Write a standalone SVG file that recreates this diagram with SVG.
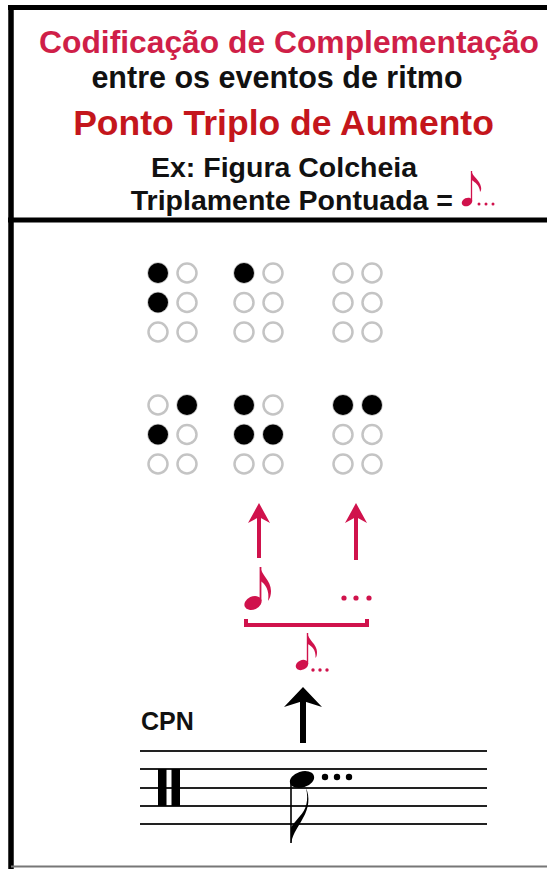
<svg xmlns="http://www.w3.org/2000/svg" width="547" height="869" viewBox="0 0 547 869">
<defs>
<style>
.t{font-family:"Liberation Sans",Arial,sans-serif;font-weight:bold;text-anchor:middle}
.red1{fill:#cf1f48}
.red2{fill:#c4161c}
.blk{fill:#111}
.on{fill:#000}
.off{fill:none;stroke:#c4c4c4;stroke-width:2.5}
.staff{stroke:#222;stroke-width:2}
.rd{fill:#d0124c}
.rs{stroke:#d0124c;fill:none}
</style>
<g id="dotcell">
<circle cx="0" cy="0" r="9.5" class="off"/>
<circle cx="29" cy="0" r="9.5" class="off"/>
<circle cx="0" cy="29.5" r="9.5" class="off"/>
<circle cx="29" cy="29.5" r="9.5" class="off"/>
<circle cx="0" cy="59" r="9.5" class="off"/>
<circle cx="29" cy="59" r="9.5" class="off"/>
</g>
</defs>
<rect width="547" height="869" fill="#fff"/>
<g id="frame">
<line x1="11" y1="5" x2="11" y2="869" stroke="#000" stroke-width="5.5"/>
<line x1="8" y1="7.5" x2="547" y2="7.5" stroke="#000" stroke-width="5"/>
<line x1="8" y1="220" x2="547" y2="220" stroke="#000" stroke-width="5"/>
<line x1="11" y1="866.5" x2="547" y2="866.5" stroke="#777" stroke-width="2"/>
</g>
<g id="header">
<text class="t red1" x="289" y="53" font-size="32" textLength="500" lengthAdjust="spacingAndGlyphs">Codificação de Complementação</text>
<text class="t blk" x="277" y="88" font-size="30.5">entre os eventos de ritmo</text>
<text class="t red2" x="283.5" y="135" font-size="35.5">Ponto Triplo de Aumento</text>
<text class="t blk" x="284" y="177" font-size="28.5">Ex: Figura Colcheia</text>
<text class="t blk" x="453" y="210" font-size="28.5" style="text-anchor:end">Triplamente Pontuada =</text>
<g id="small-note-header">
<ellipse cx="467" cy="202" rx="5.5" ry="4" transform="rotate(-25 467 202)" class="rd"/>
<line x1="471.5" y1="201" x2="471.5" y2="171" class="rs" stroke-width="1.3"/>
<path d="M471.5,171 C472,176 480,180 481,187 C481.5,189 481,191 480,192 C480,186 475,182 471.5,180 Z" class="rd"/>
<circle cx="479" cy="204" r="1.5" class="rd"/>
<circle cx="486" cy="204" r="1.5" class="rd"/>
<circle cx="493" cy="204" r="1.5" class="rd"/>
</g>
</g>
<g id="braille">
<g id="cell-top-1"><use href="#dotcell" x="158" y="273"/><circle cx="158" cy="273" r="10" class="on"/><circle cx="158" cy="302.5" r="10" class="on"/></g>
<g id="cell-top-2"><use href="#dotcell" x="244" y="273"/><circle cx="244" cy="273" r="10" class="on"/></g>
<g id="cell-top-3"><use href="#dotcell" x="343" y="273"/></g>
<g id="cell-bot-1"><use href="#dotcell" x="158" y="405"/><circle cx="187" cy="405" r="10" class="on"/><circle cx="158" cy="434.5" r="10" class="on"/></g>
<g id="cell-bot-2"><use href="#dotcell" x="244" y="405"/><circle cx="244" cy="405" r="10" class="on"/><circle cx="244" cy="434.5" r="10" class="on"/><circle cx="273" cy="434.5" r="10" class="on"/></g>
<g id="cell-bot-3"><use href="#dotcell" x="343" y="405"/><circle cx="343" cy="405" r="10" class="on"/><circle cx="372" cy="405" r="10" class="on"/></g>
</g>
<g id="connectors">
<g id="red-arrow-1">
<line x1="259" y1="558" x2="259" y2="512" class="rs" stroke-width="4"/>
<path d="M259,503 L270,523 L259,517 L248,523 Z" class="rd"/>
</g>
<g id="red-arrow-2">
<line x1="356" y1="560" x2="356" y2="512" class="rs" stroke-width="4"/>
<path d="M356,503 L367,523 L356,517 L345,523 Z" class="rd"/>
</g>
<path id="bracket" d="M246,619 V625 H367 V619" class="rs" stroke-width="4"/>
<g id="black-arrow">
<line x1="303" y1="743" x2="303" y2="698" stroke="#000" stroke-width="6"/>
<path d="M303,687 L322,707 L303,701 L284,707 Z" fill="#000"/>
</g>
</g>
<g id="red-eighth">
<ellipse cx="253" cy="603" rx="9" ry="6.5" transform="rotate(-25 253 603)" class="rd"/>
<line x1="260.5" y1="601" x2="260.5" y2="567" class="rs" stroke-width="1.8"/>
<path d="M260.5,567 C261,575 271,580 271,591 C271,595 270,598 268,601 C270,590 265,584 260.5,581 Z" class="rd"/>
</g>
<g id="red-dots">
<circle cx="344" cy="598" r="2.6" class="rd"/>
<circle cx="356" cy="598" r="2.6" class="rd"/>
<circle cx="369" cy="598" r="2.6" class="rd"/>
</g>
<g id="red-dotted-note">
<ellipse cx="302" cy="665" rx="6.5" ry="4.8" transform="rotate(-25 302 665)" class="rd"/>
<line x1="307.5" y1="664" x2="307.5" y2="633" class="rs" stroke-width="1.4"/>
<path d="M307.5,633 C308,640 317,644 317,652 C317,655 316.5,657 315.5,658 C316,650 312,646 307.5,644 Z" class="rd"/>
<circle cx="313" cy="670" r="1.7" class="rd"/>
<circle cx="320" cy="670" r="1.7" class="rd"/>
<circle cx="327" cy="670" r="1.7" class="rd"/>
</g>
<g id="cpn">
<text class="t blk" x="141" y="730" font-size="25" style="text-anchor:start">CPN</text>
<g id="staff">
<line x1="140" y1="751" x2="487" y2="751" class="staff"/>
<line x1="140" y1="769" x2="487" y2="769" class="staff"/>
<line x1="140" y1="788" x2="487" y2="788" class="staff"/>
<line x1="140" y1="806" x2="487" y2="806" class="staff"/>
<line x1="140" y1="824" x2="487" y2="824" class="staff"/>
<rect x="158" y="769" width="8.5" height="37" fill="#000"/>
<rect x="171.5" y="769" width="8.5" height="37" fill="#000"/>
</g>
<g id="staff-note">
<ellipse cx="302" cy="779.5" rx="12.5" ry="8" transform="rotate(-18 302 779.5)" fill="#000"/>
<line x1="291" y1="781" x2="291" y2="843" stroke="#000" stroke-width="1.6"/>
<path d="M291,843 C293,833 299,826 303,818 C309,808 310,797 306,788 C309,800 306,810 300,816 C296,821 292,825 291,828 Z" fill="#000"/>
<circle cx="325" cy="777" r="3.2" fill="#000"/>
<circle cx="337" cy="777" r="3.2" fill="#000"/>
<circle cx="349" cy="777" r="3.2" fill="#000"/>
</g>
</g>
</svg>
